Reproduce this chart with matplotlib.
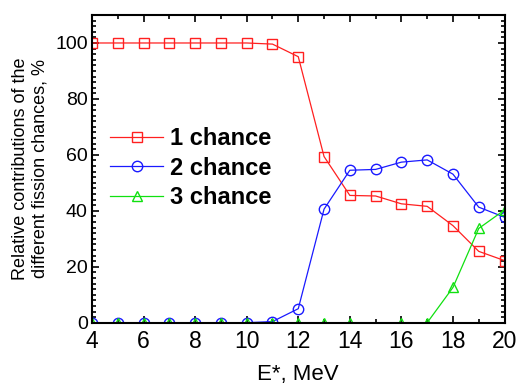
import matplotlib
matplotlib.use("Agg")
import matplotlib.pyplot as plt
from matplotlib.ticker import MultipleLocator

plt.rcParams['font.family'] = ['Liberation Sans', 'DejaVu Sans']

energy = [4, 5, 6, 7, 8, 9, 10, 11, 12, 13, 14, 15, 16, 17, 18, 19, 20]
chance1 = [100, 100, 100, 100, 100, 100, 100, 99.6, 95.1, 59.4, 45.5, 45.3, 42.5, 41.6, 34.7, 25.5, 22.2]
chance2 = [0, 0, 0, 0, 0, 0, 0, 0.4, 5.0, 40.6, 54.5, 54.8, 57.4, 58.2, 53.1, 41.3, 37.7]
energy3 = [4, 5, 6, 7, 8, 9, 10, 11, 12, 13, 14, 16, 17, 18, 19, 20]
chance3 = [0, 0, 0, 0, 0, 0, 0, 0, 0, 0, 0, 0, 0, 12.6, 33.7, 40.3]
labels = ['1 chance', '2 chance', '3 chance']

fig = plt.figure(figsize=(5.18, 3.91), dpi=100)
ax = fig.add_axes([0.1776, 0.1747, 0.7964, 0.7869])

ax.plot(energy, chance1, color='#ff2020', lw=0.9, marker='s', ms=6.5,
        mfc='none', mec='#ff2020', mew=1.0, label=labels[0])
ax.plot(energy, chance2, color='#1a1aff', lw=0.9, marker='o', ms=7.5,
        mfc='none', mec='#1a1aff', mew=1.0, label=labels[1])
ax.plot(energy3, chance3, color='#10e010', lw=0.9, marker='^', ms=7,
        mfc='none', mec='#10e010', mew=1.0, label=labels[2])

ax.set_xlim(4, 20)
ax.set_ylim(0, 110)
ax.xaxis.set_major_locator(MultipleLocator(2))
ax.xaxis.set_minor_locator(MultipleLocator(1))
ax.yaxis.set_major_locator(MultipleLocator(20))
ax.yaxis.set_minor_locator(MultipleLocator(2))
ax.tick_params(which='both', direction='in', top=True, right=True, width=1.2)
ax.tick_params(which='major', length=5)
ax.tick_params(which='minor', length=3)
ax.tick_params(axis='x', labelsize=16.5, pad=5)
ax.tick_params(axis='y', labelsize=14, pad=3)
for s in ax.spines.values():
    s.set_linewidth(1.5)

ax.set_xlabel('E*, MeV', fontsize=16, labelpad=8)
ax.set_ylabel('Relative contributions of the\ndifferent fission chances, %', fontsize=13, labelpad=5)

leg = ax.legend(loc='upper left', bbox_to_anchor=(0.044, 0.636), frameon=False,
                prop={'size': 17, 'weight': 'bold'}, handlelength=2.25,
                labelspacing=0.28, handletextpad=0.3, borderaxespad=0, borderpad=0)

fig.savefig('out.png', dpi=100)
